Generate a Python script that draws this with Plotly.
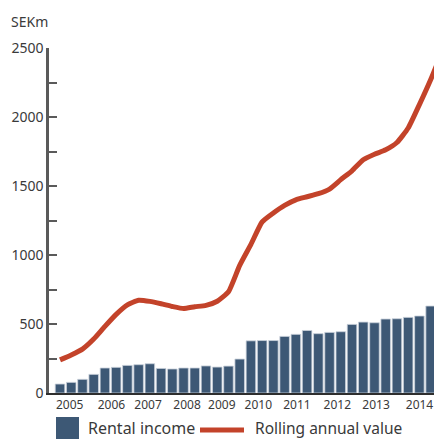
import plotly.graph_objects as go

# ---- data ----
rental_income = [65, 77, 99, 135, 181, 186, 200, 205, 212, 178, 174, 181, 181, 196, 188, 195, 246,
                 378, 380, 380, 410, 425, 453, 430, 439, 444, 497, 514, 509, 536, 538, 548, 558, 630]
rolling_annual_value = [240, 276, 318, 391, 483, 570, 639, 672, 664, 647, 627, 612, 625, 635, 665,
                        734, 925, 1077, 1240, 1305, 1360, 1400, 1422, 1444, 1478, 1546, 1610, 1690,
                        1730, 1762, 1815, 1920, 2090, 2270, 2470]
bar_x = list(range(len(rental_income)))
line_x = list(range(len(rolling_annual_value)))
year_labels = ["2005", "2006", "2007", "2008", "2009", "2010", "2011", "2012", "2013", "2014"]
year_tick_pos = [0.86, 4.58, 7.84, 11.31, 14.41, 17.66, 21.1, 24.69, 28.14, 32.01]

BAR_COLOR = "#3d5875"
LINE_COLOR = "#c3432a"
TEXT_COLOR = "#3a3a3a"
AXIS_COLOR = "#5a5a5a"
FONT = "Noto Sans"

fig = go.Figure()
fig.add_trace(go.Bar(x=bar_x, y=rental_income, width=0.85, marker_color=BAR_COLOR,
                     marker_line=dict(color="#c9d1da", width=0.8), name="Rental income",
                     showlegend=False))
fig.add_trace(go.Scatter(x=line_x, y=rolling_annual_value, mode="lines",
                         line=dict(color=LINE_COLOR, width=5, shape="spline", smoothing=0.5),
                         name="Rolling annual value", showlegend=False))

# plot-area geometry (pixels) for legend / label placement
L, R, T, B = 49, 0, 48, 46
W, H = 434, 439
pw, ph = W - L - R, H - T - B


def px(xp):
    return (xp - L) / pw


def py(yp):
    return (H - B - yp) / ph


shapes = [
    dict(type="rect", xref="paper", yref="paper", x0=px(56), x1=px(79), y0=py(417), y1=py(445),
         fillcolor=BAR_COLOR, line=dict(width=0)),
    dict(type="line", xref="paper", yref="paper", x0=px(200), x1=px(244), y0=py(430), y1=py(430),
         line=dict(color=LINE_COLOR, width=5)),
]
annotations = [
    dict(text="SEKm", xref="paper", yref="paper", x=px(9), y=py(21), xanchor="left", yanchor="middle",
         showarrow=False, font=dict(family=FONT, size=14, color=TEXT_COLOR)),
    dict(text="Rental income", xref="paper", yref="paper", x=px(86), y=py(427.5), xanchor="left",
         yanchor="middle", showarrow=False, font=dict(family=FONT, size=16, color=TEXT_COLOR)),
    dict(text="Rolling annual value", xref="paper", yref="paper", x=px(253), y=py(427.5), xanchor="left",
         yanchor="middle", showarrow=False, font=dict(family=FONT, size=15.5, color=TEXT_COLOR)),
]

fig.update_layout(
    width=W, height=H,
    margin=dict(l=L, r=R, t=T, b=B, pad=0),
    paper_bgcolor="white", plot_bgcolor="white",
    bargap=0.15,
    shapes=shapes, annotations=annotations,
    font=dict(family=FONT, color=TEXT_COLOR),
)
fig.update_xaxes(range=[-0.98, 33.3], tickvals=year_tick_pos, ticktext=year_labels,
                 showgrid=False, zeroline=False, showline=True, linecolor="#2e2e2e", linewidth=2,
                 ticks="", tickfont=dict(family=FONT, size=12, color=TEXT_COLOR))
fig.update_yaxes(range=[0, 2500], dtick=500, showgrid=False, zeroline=False,
                 showline=True, linecolor=AXIS_COLOR, linewidth=2.5,
                 ticks="inside", ticklen=8, tickwidth=2, tickcolor=AXIS_COLOR,
                 minor=dict(dtick=250, ticks="inside", ticklen=8, tickwidth=2, tickcolor=AXIS_COLOR),
                 tickfont=dict(family=FONT, size=14, color=TEXT_COLOR))

fig.write_html("out.html")
